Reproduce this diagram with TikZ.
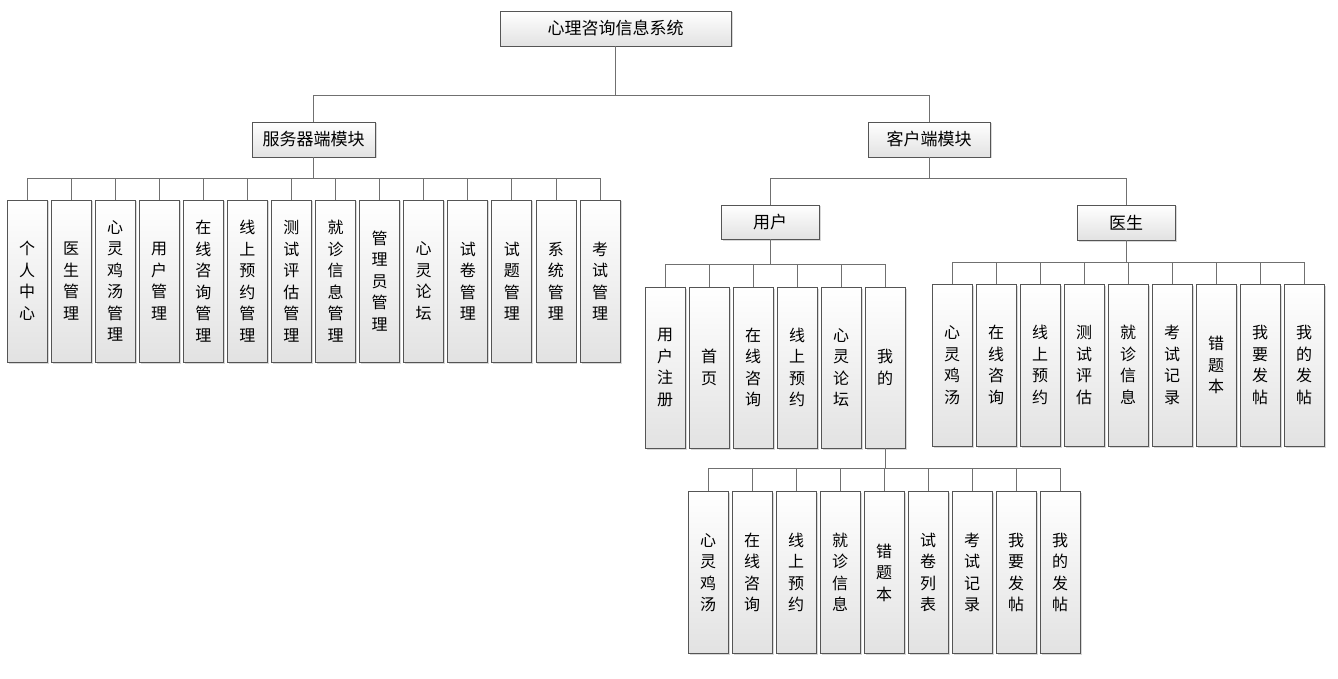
\documentclass[tikz,border=0pt]{standalone}
\usepackage{fontspec}
\setmainfont{Noto Sans CJK SC}
\usetikzlibrary{shadows}
\definecolor{boxborder}{HTML}{555555}
\definecolor{boxbottom}{HTML}{E2E2E2}
\definecolor{conncolor}{HTML}{707070}
\tikzset{
  box/.style={draw=boxborder, line width=0.9pt, top color=white, bottom color=boxbottom,
    drop shadow={shadow xshift=1.5pt, shadow yshift=-1.5pt, opacity=0.3},
    inner sep=0pt, font=\fontsize{16}{21.5}\selectfont, align=center},
  hbox/.style={box, font=\fontsize{17}{20}\selectfont},
  vbox/.style={box, minimum width=40pt, minimum height=162pt},
  conn/.style={draw=conncolor, line width=0.9pt},
}
\begin{document}
\begin{tikzpicture}[x=1pt,y=-1pt]
\useasboundingbox[fill=white] (0,0) rectangle (1338,679);

\node[hbox, minimum width=231pt, minimum height=35pt] (root) at (615.5,28.5) {心理咨询信息系统};
\node[hbox, minimum width=123pt, minimum height=35pt] (server) at (313.5,139.5) {服务器端模块};
\node[hbox, minimum width=122pt, minimum height=35pt] (client) at (929,139.5) {客户端模块};
\node[hbox, minimum width=98pt, minimum height=34pt] (user) at (770,222) {用户};
\node[hbox, minimum width=98pt, minimum height=35pt] (doctor) at (1126,222.5) {医生};

% server children
\foreach \t [count=\i] in {{个\\人\\中\\心},{医\\生\\管\\理},{心\\灵\\鸡\\汤\\管\\理},{用\\户\\管\\理},{在\\线\\咨\\询\\管\\理},{线\\上\\预\\约\\管\\理},{测\\试\\评\\估\\管\\理},{就\\诊\\信\\息\\管\\理},{管\\理\\员\\管\\理},{心\\灵\\论\\坛},{试\\卷\\管\\理},{试\\题\\管\\理},{系\\统\\管\\理},{考\\试\\管\\理}}
  \node[vbox] (s\i) at ({27+44.08*(\i-1)},281) {\t};

% user children
\foreach \t [count=\i] in {{用\\户\\注\\册},{首\\页},{在\\线\\咨\\询},{线\\上\\预\\约},{心\\灵\\论\\坛},{我\\的}}
  \node[vbox, minimum height=161pt] (u\i) at ({665+44*(\i-1)},367.5) {\t};

% mine children
\foreach \t [count=\i] in {{心\\灵\\鸡\\汤},{在\\线\\咨\\询},{线\\上\\预\\约},{就\\诊\\信\\息},{错\\题\\本},{试\\卷\\列\\表},{考\\试\\记\\录},{我\\要\\发\\帖},{我\\的\\发\\帖}}
  \node[vbox] (m\i) at ({708+44*(\i-1)},572.5) {\t};

% doctor children
\foreach \t [count=\i] in {{心\\灵\\鸡\\汤},{在\\线\\咨\\询},{线\\上\\预\\约},{测\\试\\评\\估},{就\\诊\\信\\息},{考\\试\\记\\录},{错\\题\\本},{我\\要\\发\\帖},{我\\的\\发\\帖}}
  \node[vbox] (d\i) at ({952+44*(\i-1)},365) {\t};

% connectors
\draw[conn] (root.south) -- ++(0,49) -| (server.north);
\draw[conn] (root.south) -- ++(0,49) -| (client.north);
\foreach \i in {1,...,14} \draw[conn] (server.south) -- ++(0,21) -| (s\i.north);
\draw[conn] (client.south) -- ++(0,21) -| (user.north);
\draw[conn] (client.south) -- ++(0,21) -| (doctor.north);
\foreach \i in {1,...,6} \draw[conn] (user.south) -- ++(0,25) -| (u\i.north);
\foreach \i in {1,...,9} \draw[conn] (doctor.south) -- ++(0,22) -| (d\i.north);
\foreach \i in {1,...,9} \draw[conn] (u6.south) -- ++(0,20) -| (m\i.north);
\end{tikzpicture}
\end{document}
